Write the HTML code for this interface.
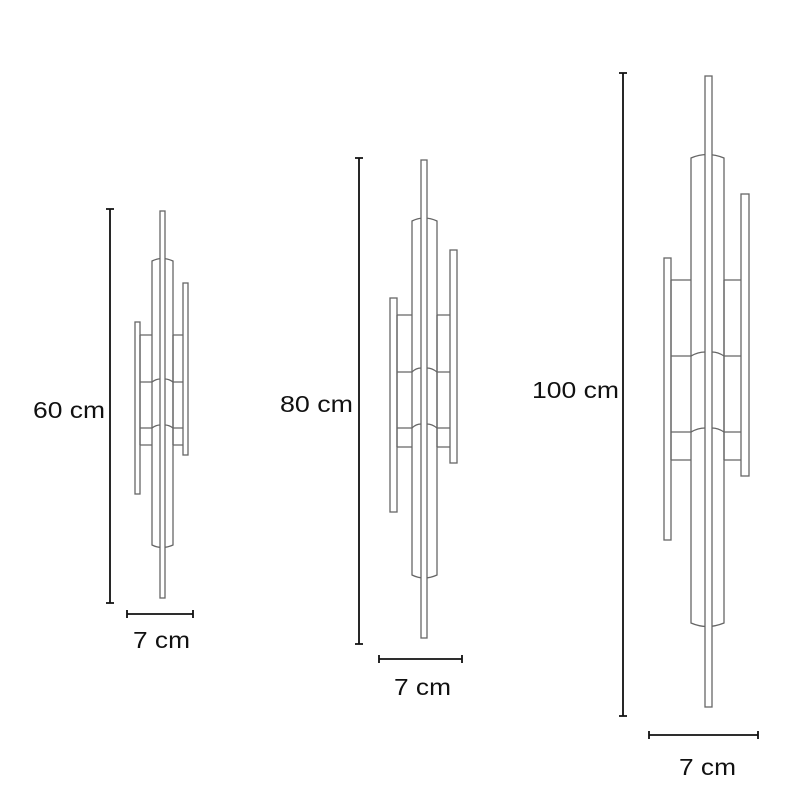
<!DOCTYPE html>
<html><head><meta charset="utf-8"><style>
html,body{margin:0;padding:0;background:#fff;}
svg{display:block}
text{font-family:"Liberation Sans",sans-serif;font-size:23px;fill:#111}
.l{fill:none;stroke:#666;stroke-width:1.3}
.d{stroke:#111;stroke-width:1.8;fill:none}
</style></head><body>
<svg width="800" height="800" viewBox="0 0 800 800">
<!-- Lamp 1 -->
<path class="d" d="M110 209V603M106 209H114M106 603H114M127 614H193M127 610V618M193 610V618"/>
<text x="33" y="418" textLength="72" lengthAdjust="spacingAndGlyphs">60 cm</text>
<text x="133" y="648" textLength="57" lengthAdjust="spacingAndGlyphs">7 cm</text>
<g class="l">
<path d="M152 261Q162 256 173 261V545Q162 550 152 545Z"/>
<rect x="160" y="211" width="5" height="387" fill="#fff"/>
<rect x="135" y="322" width="5" height="172"/>
<rect x="183" y="283" width="5" height="172"/>
<path d="M140 335V445M173 335V445M140 335H152M173 335H183M140 445H152M173 445H183"/>
<path d="M140 382H152Q156 379 160 379M165 379Q169 379 173 382H183M140 428H152Q156 425 160 425M165 425Q169 425 173 428H183"/>
</g>
<!-- Lamp 2 -->
<path class="d" d="M359 158V644M355 158H363M355 644H363M379 659H462M379 655V663M462 655V663"/>
<text x="280" y="412" textLength="73" lengthAdjust="spacingAndGlyphs">80 cm</text>
<text x="394" y="695" textLength="57" lengthAdjust="spacingAndGlyphs">7 cm</text>
<g class="l">
<path d="M412 221Q424 215 437 221V575Q424 581 412 575Z"/>
<rect x="421" y="160" width="6" height="478" fill="#fff"/>
<rect x="390" y="298" width="7" height="214"/>
<rect x="450" y="250" width="7" height="213"/>
<path d="M397 315V447M437 315V447M397 315H412M437 315H450M397 447H412M437 447H450"/>
<path d="M397 372H412Q416 368 421 368M427 368Q432 368 437 372H450M397 428H412Q416 424 421 424M427 424Q432 424 437 428H450"/>
</g>
<!-- Lamp 3 -->
<path class="d" d="M623 73V716M619 73H627M619 716H627M649 735H758M649 731V739M758 731V739"/>
<text x="532" y="398" textLength="87" lengthAdjust="spacingAndGlyphs">100 cm</text>
<text x="679" y="775" textLength="57" lengthAdjust="spacingAndGlyphs">7 cm</text>
<g class="l">
<path d="M691 158Q707 151 724 158V623Q707 630 691 623Z"/>
<rect x="705" y="76" width="7" height="631" fill="#fff"/>
<rect x="664" y="258" width="7" height="282"/>
<rect x="741" y="194" width="8" height="282"/>
<path d="M671 280V460M724 280V460M671 280H691M724 280H741M671 460H691M724 460H741"/>
<path d="M671 356H691Q698 352 705 352M712 352Q718 352 724 356H741M671 432H691Q698 428 705 428M712 428Q718 428 724 432H741"/>
</g>
</svg>
</body></html>
